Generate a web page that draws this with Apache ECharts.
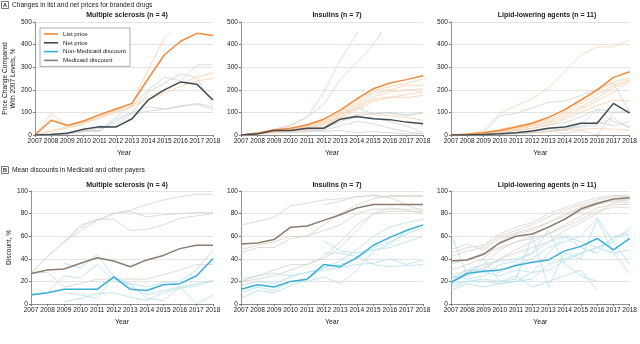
<!DOCTYPE html>
<html><head><meta charset="utf-8">
<script src="https://cdn.jsdelivr.net/npm/echarts@6/dist/echarts.min.js"></script>
<style>html,body{margin:0;padding:0;background:#fff}#c{width:640px;height:344px}</style>
</head><body><div id="c"></div>
<script>
const years = [2007,2008,2009,2010,2011,2012,2013,2014,2015,2016,2017,2018];
const panelTitles = ['Multiple sclerosis (n = 4)','Insulins (n = 7)','Lipid-lowering agents (n = 11)'];
const priceTicks = [0,100,200,300,400,500];
const discountTicks = [0,20,40,60,80,100];

// ---- Panel A: price changes (%) ----
const msList = [0,65,42,62,90,115,140,250,355,415,450,440];
const msNet  = [0,2,8,25,37,35,72,155,200,235,225,155];
const msListFaint = [
  [0,95,40,60,85,110,140,290,430],
  [0,20,35,55,80,105,130,170,200,230,255,275],
  [0,15,30,50,75,100,125,155,185,215,240,250]
];
const msListTail = [[2015.5,465]];
const msNetFaint = [
  [0,5,10,20,15,80,130,200,255,240,310,310],
  [0,2,5,20,20,70,100,190,230,270,255,130],
  [0,0,5,15,20,60,100,125,115,130,135,115],
  [0,0,5,15,30,40,95,105,115,125,140,125]
];
const insList = [0,8,22,30,45,70,110,160,205,230,245,262];
const insNet  = [0,5,20,20,30,30,70,82,72,68,57,50];
const insListFaint = [
  [0,10,25,45,80,190,330,450],
  [0,8,20,30,45,65,100,150,195,215,228,248],
  [0,8,20,28,40,60,95,140,185,200,220,220],
  [0,5,18,25,38,55,90,130,170,190,200,205],
  [0,5,15,22,35,50,80,120,160,168,165,175],
  [0,5,15,20,30,45,75,110,150,165,180,190],
  [0,5,10,15,20,30,60,90,90,85,78,65]
];
const insListTail = [[2014.2,465]];
const insNetFaint = [
  [0,10,25,40,80,135,245,320,400],
  [0,5,20,20,30,30,90,120,95,100,85,100],
  [0,5,15,20,25,25,60,80,75,60,40,10],
  [0,5,15,15,20,20,40,60,50,30,15,5],
  [0,2,10,10,15,15,20,10,15,10,5,5],
  [0,5,15,20,30,35,70,90,95,95,90,95]
];
const insNetTail = [[2015.6,465]];
const lipList = [0,3,10,20,35,52,78,112,155,200,255,280];
const lipNet  = [0,0,2,5,10,18,30,35,52,52,140,97];
const lipListFaint = [
  [0,5,20,95,130,160,210,280,355,390,390,420],
  [0,3,12,25,40,55,80,110,150,195,235,252],
  [0,3,10,20,32,48,70,100,140,180,220,245],
  [0,2,8,15,28,42,62,90,125,165,210,240],
  [0,2,8,15,25,38,55,80,115,150,190,235],
  [0,2,6,12,20,30,45,70,100,130,155,150],
  [0,1,3,5,8,10,15,20,25,30,25,20]
];
const lipNetFaint = [
  [0,3,10,85,95,120,145,150,175,205,230,100],
  [0,2,5,10,20,30,45,55,80,115,100,100],
  [0,1,3,5,10,20,30,20,50,110,60,35],
  [0,0,2,5,8,15,25,5,20,0,100,105],
  [0,0,2,3,5,10,15,30,40,60,40,60],
  [0,1,2,4,6,10,18,25,35,45,75,30]
];

// ---- Panel B: discounts (%) ----
const msMedicaid = [27,30,31,36,41,38,33,39,43,49,52,52];
const msNonMed   = [8,10,13,13,13,24,13,12,17,18,25,40];
const msMedFaint = [
  [27,42,55,70,74,80,83,88,92,95,97,97],
  [27,42,55,68,75,75,65,66,70,76,78,80],
  [null,null,55,65,74,80,82,77,79,80,81,81],
  [27,28,15,18,22,22,22,22,26,30,35,35]
];
const msNonFaint = [
  [9,10,25,23,35,20,18,5,3,15,0,8],
  [null,null,36,32,44,24,18,15,19,20,30,48],
  [null,null,10,8,5,25,15,8,12,15,18,20],
  [null,null,2,5,9,10,6,3,10,14,16,21]
];
const insMedicaid = [53,54,57,68,69,74,79,85,88,88,88,88];
const insNonMed   = [13,17,15,20,22,35,33,41,52,59,65,70];
const insMedFaint = [
  [70,73,77,87,89,92,93,95,96,94,88,82],
  [45,50,50,58,60,70,80,88,93,96,96,96],
  [null,null,null,null,null,88,91,95,96,95,95,95],
  [48,52,55,60,60,65,70,80,84,84,84,84],
  [20,25,30,35,35,42,55,70,80,82,82,82],
  [20,22,25,30,35,40,50,65,80,85,83,80]
];
const insNonFaint = [
  [22,25,27,25,28,32,38,48,60,68,72,75],
  [null,null,null,null,null,56,47,45,48,50,55,60],
  [16,20,18,24,28,30,32,35,36,40,35,39],
  [10,15,12,20,20,24,18,30,47,53,65,70],
  [5,12,10,16,22,32,35,40,50,55,62,68],
  [null,null,null,null,null,45,45,42,35,33,34,35]
];
const lipMedicaid = [38,39,44,54,60,62,68,75,84,89,93,94];
const lipNonMed   = [19,27,29,30,34,37,39,47,51,58,48,58];
const lipMedFaint = [
  [45,50,52,62,68,72,80,85,90,94,96,96],
  [42,47,50,60,65,70,77,83,88,92,95,95],
  [30,35,40,55,62,65,72,78,85,90,93,94],
  [25,30,35,48,55,60,68,75,82,88,91,92],
  [22,28,32,40,48,55,62,70,78,85,88,88],
  [35,40,45,50,55,58,62,68,75,82,86,85],
  [20,25,30,40,45,50,55,65,72,80,90,90],
  [48,53,48,58,63,67,72,80,86,90,92,93]
];
const lipNonFaint = [
  [62,25,40,20,22,60,15,45,40,75,45,27],
  [22,30,30,28,35,40,50,55,60,76,55,35],
  [15,20,22,20,25,15,20,25,30,12,null,null],
  [12,18,15,18,20,22,35,40,45,50,55,68],
  [20,28,35,38,40,45,55,60,55,50,45,48],
  [25,22,25,35,38,45,65,35,25,20,null,null],
  [18,20,20,18,20,28,30,38,45,50,58,65],
  [null,30,28,25,30,28,45,60,50,45,60,62]
];

const C = {
  list:'#f08a3c', net:'#3f4b53', non:'#3aafd6', med:'#8b7c6c',
  listF:'#fbcfa8', netF:'#cfd3d6', nonF:'#b3dfef', medF:'#d9d2ca'
};
const FONT = '"Liberation Sans", Arial, sans-serif';

const lefts = [31, 241, 451];
const gridW = 182;
const grids = [], xAxes = [], yAxes = [], titles = [], series = [];
[0,1].forEach(row => {
  lefts.forEach((l, col) => {
    grids.push({left:l, width:gridW, top: row===0 ? 22 : 191, height:113});
    const idx = row*3 + col;
    xAxes.push({
      type:'value', gridIndex:idx, min:2007, max:2018, interval:1,
      name:'Year', nameLocation:'middle', nameGap:15,
      nameTextStyle:{fontSize:7, color:'#222', fontFamily:FONT},
      axisLine:{lineStyle:{color:'#777', width:0.8}},
      axisTick:{show:true, length:2, lineStyle:{color:'#777'}},
      axisLabel:{fontSize:6.6, color:'#222', fontFamily:FONT, margin:3,
        showMinLabel:true, showMaxLabel:true, hideOverlap:false, formatter:v=>String(v)},
      splitLine:{show:false}
    });
    const ticks = row===0 ? priceTicks : discountTicks;
    yAxes.push({
      type:'value', gridIndex:idx, min:ticks[0], max:ticks[ticks.length-1],
      interval:ticks[1]-ticks[0],
      name: col===0 ? (row===0 ? 'Price Change Compared\nWith 2007 Levels, %' : 'Discount, %') : '',
      nameLocation:'middle', nameGap: row===0 ? 14 : 10,
      nameTextStyle:{fontSize:6.6, color:'#222', fontFamily:FONT, lineHeight:8},
      axisLine:{show:true, lineStyle:{color:'#777', width:0.8}},
      axisTick:{show:true, length:2, lineStyle:{color:'#777'}},
      axisLabel:{fontSize:6.6, color:'#222', fontFamily:FONT, margin:3, showMinLabel:true, showMaxLabel:true},
      splitLine:{show:true, lineStyle:{color:'#e4e4e4', width:1}}
    });
    titles.push({
      text: panelTitles[col], left: l + gridW/2, top: row===0 ? 7 : 177, textAlign:'center',
      textStyle:{fontSize:7, fontWeight:'bold', color:'#222', fontFamily:FONT}
    });
  });
});

function pts(arr){ return arr.map((v,i)=>[years[i], v]); }
function addLine(idx, arr, color, width, name, tail){
  let d = pts(arr).filter(p=>p[1]!==null);
  if (tail) d = d.concat(tail);
  const s = {
    type:'line', xAxisIndex:idx, yAxisIndex:idx,
    showSymbol:false, symbol:'none',
    lineStyle:{color:color, width:width}, itemStyle:{color:color},
    silent:true, animation:false, z: width>1 ? 5 : 2
  };
  if (name) s.name = name;
  if (tail) {
    s.showSymbol = true;
    s.data = d.map((p,i)=> i===d.length-1 ? {value:p, symbol:'emptyCircle', symbolSize:3, itemStyle:{color:'#fff', borderColor:color, borderWidth:0.8}} : p);
  } else {
    s.data = d;
  }
  series.push(s);
}

// Panel A faint lines
msNetFaint.forEach(a=>addLine(0,a,C.netF,0.8));
msListFaint.forEach((a,i)=>addLine(0,a,C.listF,0.8,null,i===0?msListTail:null));
insNetFaint.forEach((a,i)=>addLine(1,a,C.netF,0.8,null,i===0?insNetTail:null));
insListFaint.forEach((a,i)=>addLine(1,a,C.listF,0.8,null,i===0?insListTail:null));
lipNetFaint.forEach(a=>addLine(2,a,C.netF,0.8));
lipListFaint.forEach(a=>addLine(2,a,C.listF,0.8));
// Panel B faint lines
msMedFaint.forEach(a=>addLine(3,a,C.medF,0.8));
msNonFaint.forEach(a=>addLine(3,a,C.nonF,0.8));
insMedFaint.forEach(a=>addLine(4,a,C.medF,0.8));
insNonFaint.forEach(a=>addLine(4,a,C.nonF,0.8));
lipMedFaint.forEach(a=>addLine(5,a,C.medF,0.8));
lipNonFaint.forEach(a=>addLine(5,a,C.nonF,0.8));
// Main lines
addLine(0,msList,C.list,1.5,'List price');
addLine(0,msNet,C.net,1.5,'Net price');
addLine(1,insList,C.list,1.5);
addLine(1,insNet,C.net,1.5);
addLine(2,lipList,C.list,1.5);
addLine(2,lipNet,C.net,1.5);
addLine(3,msNonMed,C.non,1.5,'Non-Medicaid discount');
addLine(3,msMedicaid,C.med,1.5,'Medicaid discount');
addLine(4,insMedicaid,C.med,1.5);
addLine(4,insNonMed,C.non,1.5);
addLine(5,lipMedicaid,C.med,1.5);
addLine(5,lipNonMed,C.non,1.5);

const chart = echarts.init(document.getElementById('c'), null, {renderer:'canvas'});
chart.setOption({
  animation:false,
  backgroundColor:'#fff',
  title: titles,
  grid: grids, xAxis: xAxes, yAxis: yAxes, series: series,
  legend: {
    data:[
      {name:'List price', icon:'rect', itemStyle:{color:C.list}},
      {name:'Net price', icon:'rect', itemStyle:{color:C.net}},
      {name:'Non-Medicaid discount', icon:'rect', itemStyle:{color:C.non}},
      {name:'Medicaid discount', icon:'rect', itemStyle:{color:C.med}}
    ],
    orient:'vertical', left:40, top:28, itemGap:2.8, itemWidth:14, itemHeight:1.6,
    padding:[3,4,3,4], borderColor:'#999', borderWidth:0.8, backgroundColor:'#fff',
    textStyle:{fontSize:6.2, color:'#222', fontFamily:FONT, padding:[0,0,0,0], lineHeight:6},
    selectedMode:false
  },
  graphic: [
    {type:'rect', shape:{x:1.5, y:1.5, width:7, height:7}, style:{fill:'#fff', stroke:'#555', lineWidth:0.8}},
    {type:'text', x:5, y:5, style:{text:'A', fontSize:5.5, fontWeight:'bold', fill:'#222', align:'center', verticalAlign:'middle', fontFamily:FONT}},
    {type:'text', x:12, y:5, style:{text:'Changes in list and net prices for branded drugs', fontSize:6.6, fill:'#222', verticalAlign:'middle', fontFamily:FONT}},
    {type:'rect', shape:{x:1.5, y:166.5, width:7, height:7}, style:{fill:'#fff', stroke:'#555', lineWidth:0.8}},
    {type:'text', x:5, y:170, style:{text:'B', fontSize:5.5, fontWeight:'bold', fill:'#222', align:'center', verticalAlign:'middle', fontFamily:FONT}},
    {type:'text', x:12, y:170, style:{text:'Mean discounts in Medicaid and other payers', fontSize:6.6, fill:'#222', verticalAlign:'middle', fontFamily:FONT}}
  ]
});
</script></body></html>
